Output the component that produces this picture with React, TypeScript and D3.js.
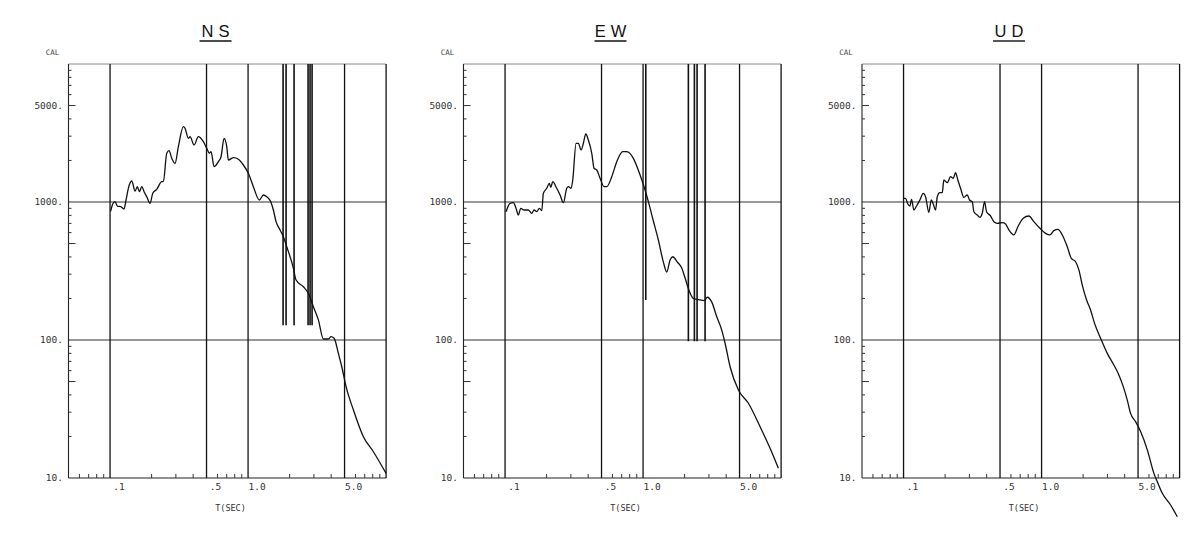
import React from "react";
import * as d3 from "d3";

// ---------- data ----------
const panelNames = ["NS", "EW", "UD"];

const nsPeriod = [0.101, 0.1046, 0.1087, 0.113, 0.1195, 0.1263, 0.1306, 0.1357, 0.1436, 0.1518, 0.1577, 0.163, 0.1697, 0.1764, 0.1845, 0.1949, 0.2039, 0.218, 0.2369, 0.2433, 0.2575, 0.2676, 0.28, 0.2958, 0.3125, 0.3398, 0.3495, 0.3693, 0.3799, 0.4061, 0.4364, 0.4743, 0.502, 0.5243, 0.5393, 0.567, 0.6092, 0.6372, 0.67, 0.7008, 0.7198, 0.7824, 0.8505, 0.9246, 1.005, 1.0925, 1.2075, 1.291, 1.366, 1.46, 1.525, 1.595, 1.705, 1.802, 1.907, 2.129, 2.227, 2.516, 2.735, 2.973, 3.231, 3.512, 3.818, 3.994, 4.199, 4.511, 4.774, 5.13, 5.796, 6.847, 8.089, 10.0];
const nsAccel = [855, 967, 1005, 935, 925, 890, 1034, 1257, 1420, 1201, 1291, 1188, 1291, 1188, 1092, 979, 1156, 1236, 1403, 1403, 2254, 2353, 2073, 1907, 2516, 3513, 3420, 2894, 2973, 2588, 2973, 2735, 2450, 2254, 2315, 1802, 1959, 2129, 2894, 2516, 2015, 2094, 2039, 1854, 1614, 1291, 1034, 1124, 1092, 1005, 875, 720, 627, 560, 474, 332, 272, 243, 218, 174, 140, 101.7, 101.7, 105.7, 102.9, 80.1, 64, 45.9, 31.1, 19.9, 15.5, 10.8];

const ewPeriod = [0.1017, 0.1087, 0.1149, 0.1201, 0.1248, 0.13, 0.1373, 0.1475, 0.1561, 0.1622, 0.1697, 0.1772, 0.1845, 0.1895, 0.2005, 0.2094, 0.2144, 0.2216, 0.2369, 0.2504, 0.2645, 0.28, 0.2875, 0.3008, 0.3094, 0.3269, 0.3398, 0.3554, 0.3693, 0.3844, 0.4015, 0.4249, 0.4415, 0.4618, 0.488, 0.5217, 0.5457, 0.5931, 0.6447, 0.7126, 0.7618, 0.8505, 0.9512, 1.034, 1.0925, 1.1875, 1.291, 1.403, 1.485, 1.569, 1.641, 1.772, 1.907, 2.015, 2.19, 2.314, 2.588, 2.767, 2.924, 3.146, 3.419, 3.716, 3.928, 4.27, 4.906, 5.796, 7.045, 8.32, 9.558];
const ewAccel = [851, 978, 988, 900, 805, 900, 875, 875, 828, 875, 851, 900, 865, 1156, 1257, 1366, 1278, 1403, 1257, 1124, 988, 1257, 1291, 1257, 1444, 2663, 2663, 2381, 2663, 3110, 2814, 2254, 1755, 1706, 1485, 1291, 1291, 1525, 1959, 2315, 2315, 2073, 1569, 1222, 1005, 728, 530, 367, 311, 380, 401, 367, 332, 281, 219, 200, 195, 193, 204, 188, 147.5, 118, 94.7, 64, 43.4, 34.8, 23.5, 16.4, 11.75];

const udPeriod = [0.1, 0.1034, 0.1074, 0.1111, 0.1143, 0.1188, 0.1242, 0.1313, 0.1389, 0.1444, 0.1525, 0.1588, 0.1641, 0.1706, 0.1755, 0.1833, 0.1907, 0.1959, 0.2073, 0.2191, 0.2292, 0.2381, 0.2474, 0.2588, 0.2735, 0.2894, 0.3008, 0.3146, 0.3232, 0.342, 0.3572, 0.3718, 0.3863, 0.3994, 0.427, 0.4511, 0.4775, 0.519, 0.5484, 0.5794, 0.6299, 0.6734, 0.7369, 0.809, 0.8795, 0.9721, 1.069, 1.149, 1.228, 1.313, 1.413, 1.535, 1.641, 1.763, 1.863, 1.972, 2.119, 2.265, 2.421, 2.676, 2.992, 3.341, 3.631, 3.908, 4.178, 4.414, 4.798, 5.216, 5.835, 6.514, 6.895, 7.493, 8.604, 9.622];
const udAccel = [1064, 1064, 967, 935, 1046, 875, 935, 1034, 1156, 1092, 842, 1034, 967, 875, 1092, 1168, 1168, 1444, 1380, 1525, 1485, 1630, 1444, 1257, 1082, 1124, 1034, 1005, 851, 805, 775, 828, 1005, 851, 792, 720, 701, 708, 693, 627, 577, 662, 762, 792, 720, 645, 593, 577, 620, 634, 577, 474, 391, 369, 322, 250, 195, 165, 132, 103, 80, 65.9, 55.8, 45.9, 36.7, 29.4, 25.6, 21.7, 16.0, 10.8, 9.4, 7.75, 6.37, 5.24];

// vertical pen strokes (plotting artefacts) hanging from the top of the frame
const nsSpikePeriod = [1.793, 1.885, 2.154, 2.721, 2.813, 2.909];
const nsSpikeBottom = [128, 128, 128, 128, 128, 128];
const ewSpikePeriod = [1.046, 2.129, 2.354, 2.462, 2.813];
const ewSpikeBottom = [195, 98, 98, 98, 98];
const udSpikePeriod: number[] = [];
const udSpikeBottom: number[] = [];

const yTickValues = [10, 100, 1000, 5000];
const yTickLabels = ["10.", "100.", "1000.", "5000."];
const xTickValues = [0.1, 0.5, 1, 5];
const xTickLabels = [".1", ".5", "1.0", "5.0"];
const xGridValues = [0.1, 0.5, 1, 5, 10];
const yGridValues = [100, 1000];
const xDomain = [0.05, 10];
const yDomain = [10, 10000];
const yUnit = "CAL";
const xUnit = "T(SEC)";

// ---------- layout ----------
const W = 1200;
const H = 538;
const panelLeft = [68.5, 463.5, 862];
const plotW = 317.6;
const plotTop = 64;
const plotBottom = 478;
const MONO = "'DejaVu Sans Mono', 'Liberation Mono', monospace";
const SANS = "'Liberation Sans', 'DejaVu Sans', sans-serif";

type PanelProps = {
  name: string;
  left: number;
  period: number[];
  accel: number[];
  spikeP: number[];
  spikeB: number[];
};

function Panel({ name, left, period, accel, spikeP, spikeB }: PanelProps) {
  const x = d3.scaleLog().domain(xDomain).range([left, left + plotW]);
  const y = d3.scaleLog().domain(yDomain).range([plotBottom, plotTop]);
  const pts: [number, number][] = period.map((p, i) => [p, accel[i]]);
  const line = d3
    .line<[number, number]>()
    .x((d) => x(d[0]))
    .y((d) => y(d[1]))
    .curve(d3.curveMonotoneX);

  const yMinor: { v: number; long: boolean }[] = [];
  [10, 100, 1000].forEach((dec) => {
    for (let m = 2; m <= 9; m++) yMinor.push({ v: m * dec, long: m === 5 });
  });
  const xMinor: number[] = [];
  [0.01, 0.1, 1].forEach((dec) => {
    for (let m = 2; m <= 9; m++) {
      const v = m * dec;
      if (v > xDomain[0] + 1e-9 && m !== 5) xMinor.push(v);
    }
  });

  const cx = left + 147;
  return (
    <g>
      {/* title */}
      <text x={cx + 2.5} y={37} textAnchor="middle" fontFamily={SANS} fontSize={16.5} letterSpacing={5} fill="#111">
        {name}
      </text>
      <line x1={cx - 16} x2={cx + 16} y1={41} y2={41} stroke="#111" strokeWidth={1.4} />
      {/* unit */}
      <text x={left - 16} y={55} textAnchor="middle" fontFamily={MONO} fontSize={7.5} fill="#444">
        {yUnit}
      </text>
      {/* top border (faint) */}
      <line x1={left} x2={left + plotW} y1={plotTop} y2={plotTop} stroke="#888" strokeWidth={1} />
      {/* horizontal grid */}
      {yGridValues.map((v) => (
        <line key={"hy" + v} x1={left} x2={left + plotW} y1={y(v)} y2={y(v)} stroke="#333" strokeWidth={1} />
      ))}
      {/* left & bottom axes */}
      <line x1={left} x2={left} y1={plotTop} y2={plotBottom} stroke="#222" strokeWidth={1.1} />
      <line x1={left} x2={left + plotW} y1={plotBottom} y2={plotBottom} stroke="#222" strokeWidth={1.1} />
      {/* vertical grid */}
      {xGridValues.map((v) => (
        <line key={"gx" + v} x1={x(v)} x2={x(v)} y1={plotTop} y2={plotBottom} stroke="#111" strokeWidth={1.3} />
      ))}
      {/* y minor ticks */}
      {yMinor.map((t) => (
        <line key={"ym" + t.v} x1={left} x2={left + (t.long ? 7 : 3)} y1={y(t.v)} y2={y(t.v)} stroke="#333" strokeWidth={1} />
      ))}
      {/* x minor ticks */}
      {xMinor.map((v) => (
        <line key={"xm" + v} x1={x(v)} x2={x(v)} y1={plotBottom} y2={plotBottom - 4} stroke="#333" strokeWidth={1} />
      ))}
      {/* y labels */}
      {yTickValues.map((v, i) => (
        <text key={"yl" + v} x={left - 5.5} y={y(v)} dy="0.35em" textAnchor="end" fontFamily={MONO} fontSize={9.5} fill="#333">
          {yTickLabels[i]}
        </text>
      ))}
      {/* x labels */}
      {xTickValues.map((v, i) => (
        <text key={"xl" + v} x={x(v) + 9} y={plotBottom + 12} textAnchor="middle" fontFamily={MONO} fontSize={9.5} fill="#333">
          {xTickLabels[i]}
        </text>
      ))}
      <text x={left + 162} y={511} textAnchor="middle" fontFamily={MONO} fontSize={8.5} fill="#333">
        {xUnit}
      </text>
      {/* spikes */}
      {spikeP.map((p, i) => (
        <line key={"sp" + i} x1={x(p)} x2={x(p)} y1={plotTop} y2={y(spikeB[i])} stroke="#111" strokeWidth={1.6} />
      ))}
      {/* response curve */}
      <path d={line(pts) || ""} fill="none" stroke="#111" strokeWidth={1.3} strokeLinejoin="round" />
    </g>
  );
}

export default function App() {
  const panels = [
    { period: nsPeriod, accel: nsAccel, spikeP: nsSpikePeriod, spikeB: nsSpikeBottom },
    { period: ewPeriod, accel: ewAccel, spikeP: ewSpikePeriod, spikeB: ewSpikeBottom },
    { period: udPeriod, accel: udAccel, spikeP: udSpikePeriod, spikeB: udSpikeBottom },
  ];
  return (
    <svg
      width={W}
      height={H}
      viewBox={`0 0 ${W} ${H}`}
      style={{ position: "absolute", left: 0, top: 0, display: "block", background: "#fff" }}
    >
      <rect x={0} y={0} width={W} height={H} fill="#fff" />
      {panels.map((p, i) => (
        <Panel key={panelNames[i]} name={panelNames[i]} left={panelLeft[i]} {...p} />
      ))}
    </svg>
  );
}
